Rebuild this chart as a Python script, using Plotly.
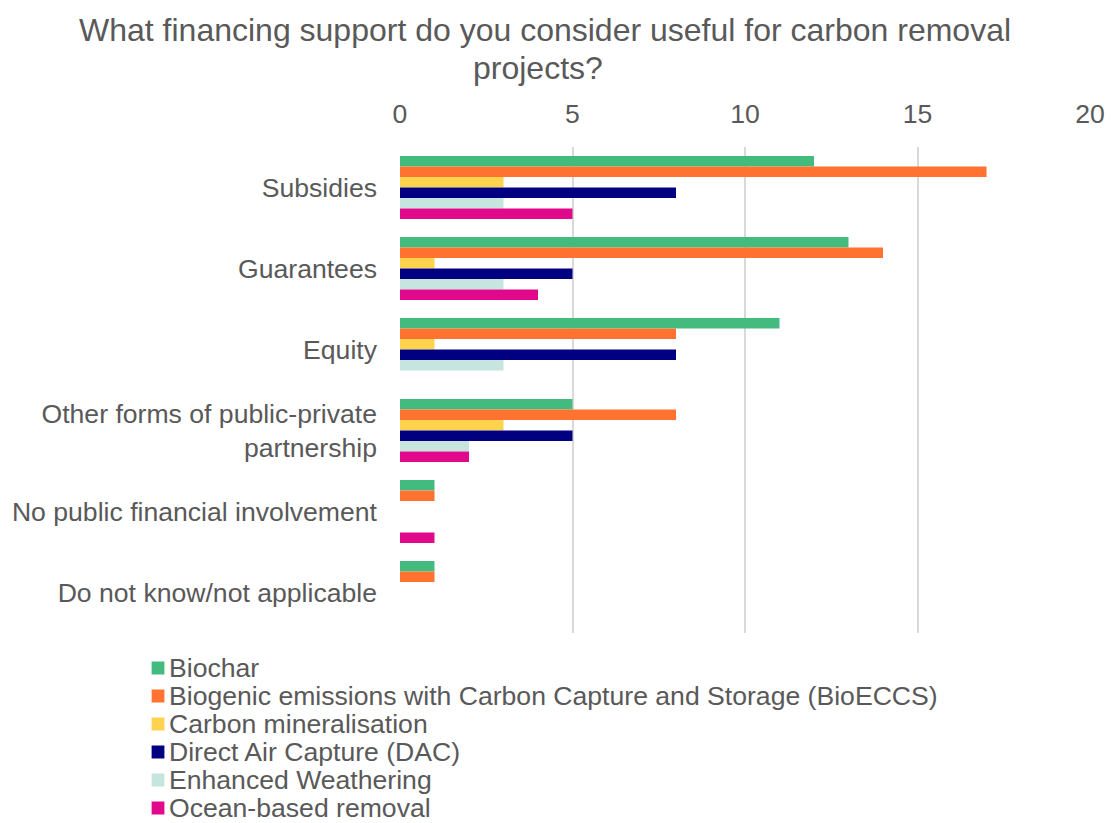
import plotly.graph_objects as go

categories = ["Subsidies", "Guarantees", "Equity",
              "Other forms of public-private<br>partnership",
              "No public financial involvement", "Do not know/not applicable"]
series_names = ["Biochar",
                "Biogenic emissions with Carbon Capture and Storage (BioECCS)",
                "Carbon mineralisation", "Direct Air Capture (DAC)",
                "Enhanced Weathering", "Ocean-based removal"]
biochar = [12, 13, 11, 5, 1, 1]
bioeccs = [17, 14, 8, 8, 1, 1]
carbon_min = [3, 1, 1, 3, 0, 0]
dac = [8, 5, 8, 5, 0, 0]
enhanced_weathering = [3, 3, 3, 2, 0, 0]
ocean = [5, 4, 0, 2, 1, 0]
x_ticks = [0, 5, 10, 15, 20]
title_lines = ["What financing support do you consider useful for carbon removal",
               "projects?"]

colors = ["#44BB7E", "#FF7230", "#FFD34D", "#000080", "#C5E5DE", "#E0098B"]
values = [biochar, bioeccs, carbon_min, dac, enhanced_weathering, ocean]

TEXT = "#595959"
FONT = "Liberation Sans, Arial, sans-serif"
FS = 26.6

W, H = 1117, 823
ML, MR, MT, MB = 400, 17, 147, 190
PW, PH = W - ML - MR, H - MT - MB

fig = go.Figure()
for name, vals, col in zip(series_names, values, colors):
    fig.add_trace(go.Bar(y=categories, x=vals, name=name, orientation="h",
                         marker=dict(color=col, line=dict(width=0)),
                         showlegend=False))

# pixel layout converted to paper coords
def px_x(p):
    return (p - ML) / PW

def px_y(p):
    return (H - MB - p) / PH

# title (two centred lines)
for (cx, cy), line in zip([(547, 30), (540, 68)], title_lines):
    fig.add_annotation(xref="paper", yref="paper", x=px_x(cx), y=px_y(cy),
                       xanchor="center", yanchor="middle", text=line,
                       showarrow=False, font=dict(family=FONT, size=32, color=TEXT))

# custom legend
row0, pitch = 666.5, 28.0
for i, (name, col) in enumerate(zip(series_names, colors)):
    cy = row0 + i * pitch
    fig.add_shape(type="rect", xref="paper", yref="paper",
                  x0=px_x(148), x1=px_x(161), y0=px_y(cy + 8), y1=px_y(cy - 5),
                  fillcolor=col, line=dict(width=0))
    fig.add_annotation(xref="paper", yref="paper", x=px_x(165), y=px_y(cy + 1),
                       xanchor="left", yanchor="middle", text=name, showarrow=False,
                       borderpad=0, font=dict(family=FONT, size=FS, color=TEXT))

fig.update_layout(
    width=W, height=H,
    barmode="group", bargap=0.22, bargroupgap=0,
    plot_bgcolor="white", paper_bgcolor="white",
    margin=dict(l=ML, r=MR, t=MT, b=MB),
    font=dict(family=FONT, size=FS, color=TEXT),
    xaxis=dict(side="top", range=[0, 20], tickvals=x_ticks, showgrid=True,
               gridcolor="#D9D9D9", gridwidth=2, zeroline=False, showline=False,
               ticks="", ticklabelstandoff=18, tickfont=dict(size=FS, color=TEXT)),
    yaxis=dict(autorange="reversed", showgrid=False, showline=False, ticks="",
               ticklabelstandoff=22, tickfont=dict(size=FS, color=TEXT)),
    showlegend=False,
)

fig.write_html("out.html")
